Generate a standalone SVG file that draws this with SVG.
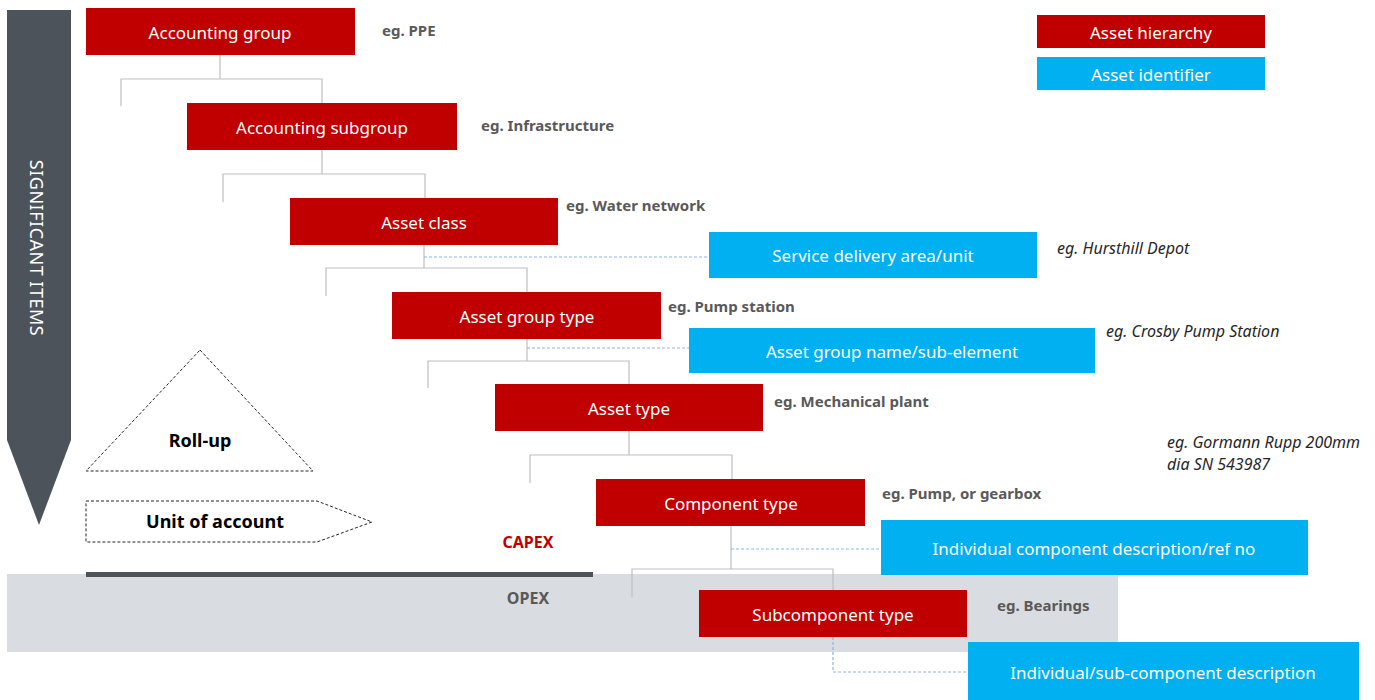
<svg xmlns="http://www.w3.org/2000/svg" width="1375" height="700" viewBox="0 0 1375 700">
<style>
.red{fill:#c00000}
.blue{fill:#00b0f0}
.bt{font-family:"Noto Sans","Open Sans",sans-serif;font-size:17px;fill:#ffffff;text-anchor:middle;dominant-baseline:central}
.eg{font-family:"Noto Sans","Open Sans",sans-serif;font-size:15px;font-weight:bold;fill:#595959}
.it{font-family:"Noto Sans","Open Sans",sans-serif;font-size:16px;font-style:italic;fill:#262626}
.tree{fill:none;stroke:#bfbfbf;stroke-width:1.2}
.dash{fill:none;stroke:#8db3e2;stroke-width:1.2;stroke-dasharray:3 2}
.outline{fill:#ffffff;stroke:#262626;stroke-width:1;stroke-dasharray:3 2}
.big{font-family:"Noto Sans","Open Sans",sans-serif;font-size:18px;font-weight:bold;fill:#000000;text-anchor:middle;dominant-baseline:central}
</style>
<rect width="1375" height="700" fill="#ffffff"/>
<g id="opex-band">
<rect x="7" y="574" width="1111" height="78" fill="#d9dce0"/>
<rect x="86" y="572" width="507" height="5" fill="#4d535a"/>
<text x="528" y="542" style="font-family:'Noto Sans','Open Sans',sans-serif;font-size:16px;font-weight:bold;fill:#c00000;text-anchor:middle;dominant-baseline:central">CAPEX</text>
<text x="528" y="598" style="font-family:'Noto Sans','Open Sans',sans-serif;font-size:16px;font-weight:bold;fill:#595959;text-anchor:middle;dominant-baseline:central">OPEX</text>
</g>
<g id="significant-items">
<polygon points="7,10 71,10 71,440 39,525 7,440" fill="#4d535a"/>
<text x="0" y="0" transform="translate(37,248) rotate(90)" style="font-family:'Noto Sans','Open Sans',sans-serif;font-size:18px;fill:#ffffff;text-anchor:middle;dominant-baseline:central;letter-spacing:0.5px">SIGNIFICANT ITEMS</text>
</g>
<g id="connectors">
<path class="tree" d="M220,55V79M121,106V79H322V103"/>
<path class="tree" d="M322,150V174M223,202V174H425V198"/>
<path class="tree" d="M424,245V268M326,296V268H527V292"/>
<path class="tree" d="M527,339V361M428,388V361H629V384"/>
<path class="tree" d="M629,431V455M530,483V455H732V479"/>
<path class="tree" d="M731,526V569M632,597V569H833V590"/>
<path class="dash" d="M424,257H709"/>
<path class="dash" d="M527,348H689"/>
<path class="dash" d="M731,549H881"/>
<path class="dash" d="M833,637V672H968"/>
</g>
<g id="accounting-group"><rect class="red" x="86" y="8" width="269" height="47"/><text class="bt" x="220" y="32">Accounting group</text></g>
<g id="accounting-subgroup"><rect class="red" x="187" y="103" width="270" height="47"/><text class="bt" x="322" y="127">Accounting subgroup</text></g>
<g id="asset-class"><rect class="red" x="290" y="198" width="268" height="47"/><text class="bt" x="424" y="222">Asset class</text></g>
<g id="asset-group-type"><rect class="red" x="392" y="292" width="269" height="47"/><text class="bt" x="527" y="316">Asset group type</text></g>
<g id="asset-type"><rect class="red" x="495" y="384" width="268" height="47"/><text class="bt" x="629" y="408">Asset type</text></g>
<g id="component-type"><rect class="red" x="596" y="479" width="269" height="47"/><text class="bt" x="731" y="503">Component type</text></g>
<g id="subcomponent-type"><rect class="red" x="699" y="590" width="268" height="47"/><text class="bt" x="833" y="614">Subcomponent type</text></g>
<g id="service-delivery"><rect class="blue" x="709" y="232" width="328" height="46"/><text class="bt" x="873" y="255">Service delivery area/unit</text></g>
<g id="asset-group-name"><rect class="blue" x="689" y="328" width="406" height="45"/><text class="bt" x="892" y="351">Asset group name/sub-element</text></g>
<g id="individual-component"><rect class="blue" x="881" y="520" width="427" height="55"/><text class="bt" x="1094" y="548">Individual component description/ref no</text></g>
<g id="individual-sub-component"><rect class="blue" x="968" y="642" width="391" height="58"/><text class="bt" x="1163" y="672">Individual/sub-component description</text></g>
<g id="legend">
<rect class="red" x="1037" y="15" width="228" height="33"/><text class="bt" x="1151" y="32">Asset hierarchy</text>
<rect class="blue" x="1037" y="57" width="228" height="33"/><text class="bt" x="1151" y="74">Asset identifier</text>
</g>
<g id="examples">
<text class="eg" x="382" y="36">eg. PPE</text>
<text class="eg" x="481" y="131">eg. Infrastructure</text>
<text class="eg" x="566" y="211">eg. Water network</text>
<text class="eg" x="668" y="312">eg. Pump station</text>
<text class="eg" x="774" y="407">eg. Mechanical plant</text>
<text class="eg" x="882" y="499">eg. Pump, or gearbox</text>
<text class="eg" x="997" y="611">eg. Bearings</text>
<text class="it" x="1057" y="254">eg. Hursthill Depot</text>
<text class="it" x="1106" y="337">eg. Crosby Pump Station</text>
<text class="it" x="1167" y="448">eg. Gormann Rupp 200mm</text>
<text class="it" x="1167" y="470">dia SN 543987</text>
</g>
<g id="roll-up">
<polygon class="outline" points="200,350 313,471 86,471"/>
<text class="big" x="200" y="440">Roll-up</text>
</g>
<g id="unit-of-account">
<polygon class="outline" points="86,501 317,501 372,522 317,542 86,542"/>
<text class="big" x="215" y="521">Unit of account</text>
</g>
</svg>
